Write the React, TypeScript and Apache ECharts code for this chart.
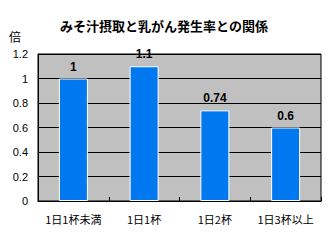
import React, { useEffect, useRef } from "react";
import * as echarts from "echarts";

const categories = ["1日1杯未満", "1日1杯", "1日2杯", "1日3杯以上"];
const values = [1, 1.1, 0.74, 0.6];
const titleText = "みそ汁摂取と乳がん発生率との関係";
const unitText = "倍";

export default function App() {
  const ref = useRef<HTMLDivElement>(null);
  useEffect(() => {
    const chart = echarts.init(ref.current!, null, { renderer: "svg" });
    chart.setOption({
      animation: false,
      backgroundColor: "#ffffff",
      title: {
        text: titleText,
        left: 159,
        textAlign: "center",
        top: 14,
        textStyle: { fontSize: 13, fontWeight: "bold", color: "#000", fontFamily: "Noto Sans CJK JP" },
      },
      graphic: [
        {
          type: "text",
          left: 9,
          top: 30,
          style: { text: unitText, fontSize: 12, fill: "#000", fontFamily: "Noto Sans CJK JP" },
        },
      ],
      grid: { left: 38, right: 8, top: 54, bottom: 43, show: true, backgroundColor: "#C0C0C0", borderColor: "#000", borderWidth: 1 },
      xAxis: {
        type: "category",
        data: categories,
        axisLine: { lineStyle: { color: "#000", width: 1 } },
        axisTick: { show: true, inside: true, length: 4, lineStyle: { color: "#000" } },
        axisLabel: { fontSize: 11, color: "#000", margin: 12, interval: 0, fontFamily: "Noto Sans CJK JP" },
      },
      yAxis: {
        type: "value",
        min: 0,
        max: 1.2,
        interval: 0.2,
        axisLine: { show: true, lineStyle: { color: "#000" } },
        axisTick: { show: false },
        splitLine: { lineStyle: { color: "#000", width: 1 } },
        axisLabel: { fontSize: 11, color: "#000", margin: 10, fontFamily: "Liberation Sans" },
      },
      series: [
        {
          type: "bar",
          data: values,
          barWidth: "41%",
          itemStyle: { color: "#0078F0", borderColor: "#ffffff", borderWidth: 1 },
          label: {
            show: true,
            position: "top",
            distance: 6,
            fontSize: 12,
            fontWeight: "bold",
            color: "#000",
            fontFamily: "Liberation Sans",
          },
        },
      ],
    });
    return () => chart.dispose();
  }, []);
  return <div ref={ref} style={{ position: "fixed", left: 0, top: 0, width: 329, height: 244 }} />;
}
